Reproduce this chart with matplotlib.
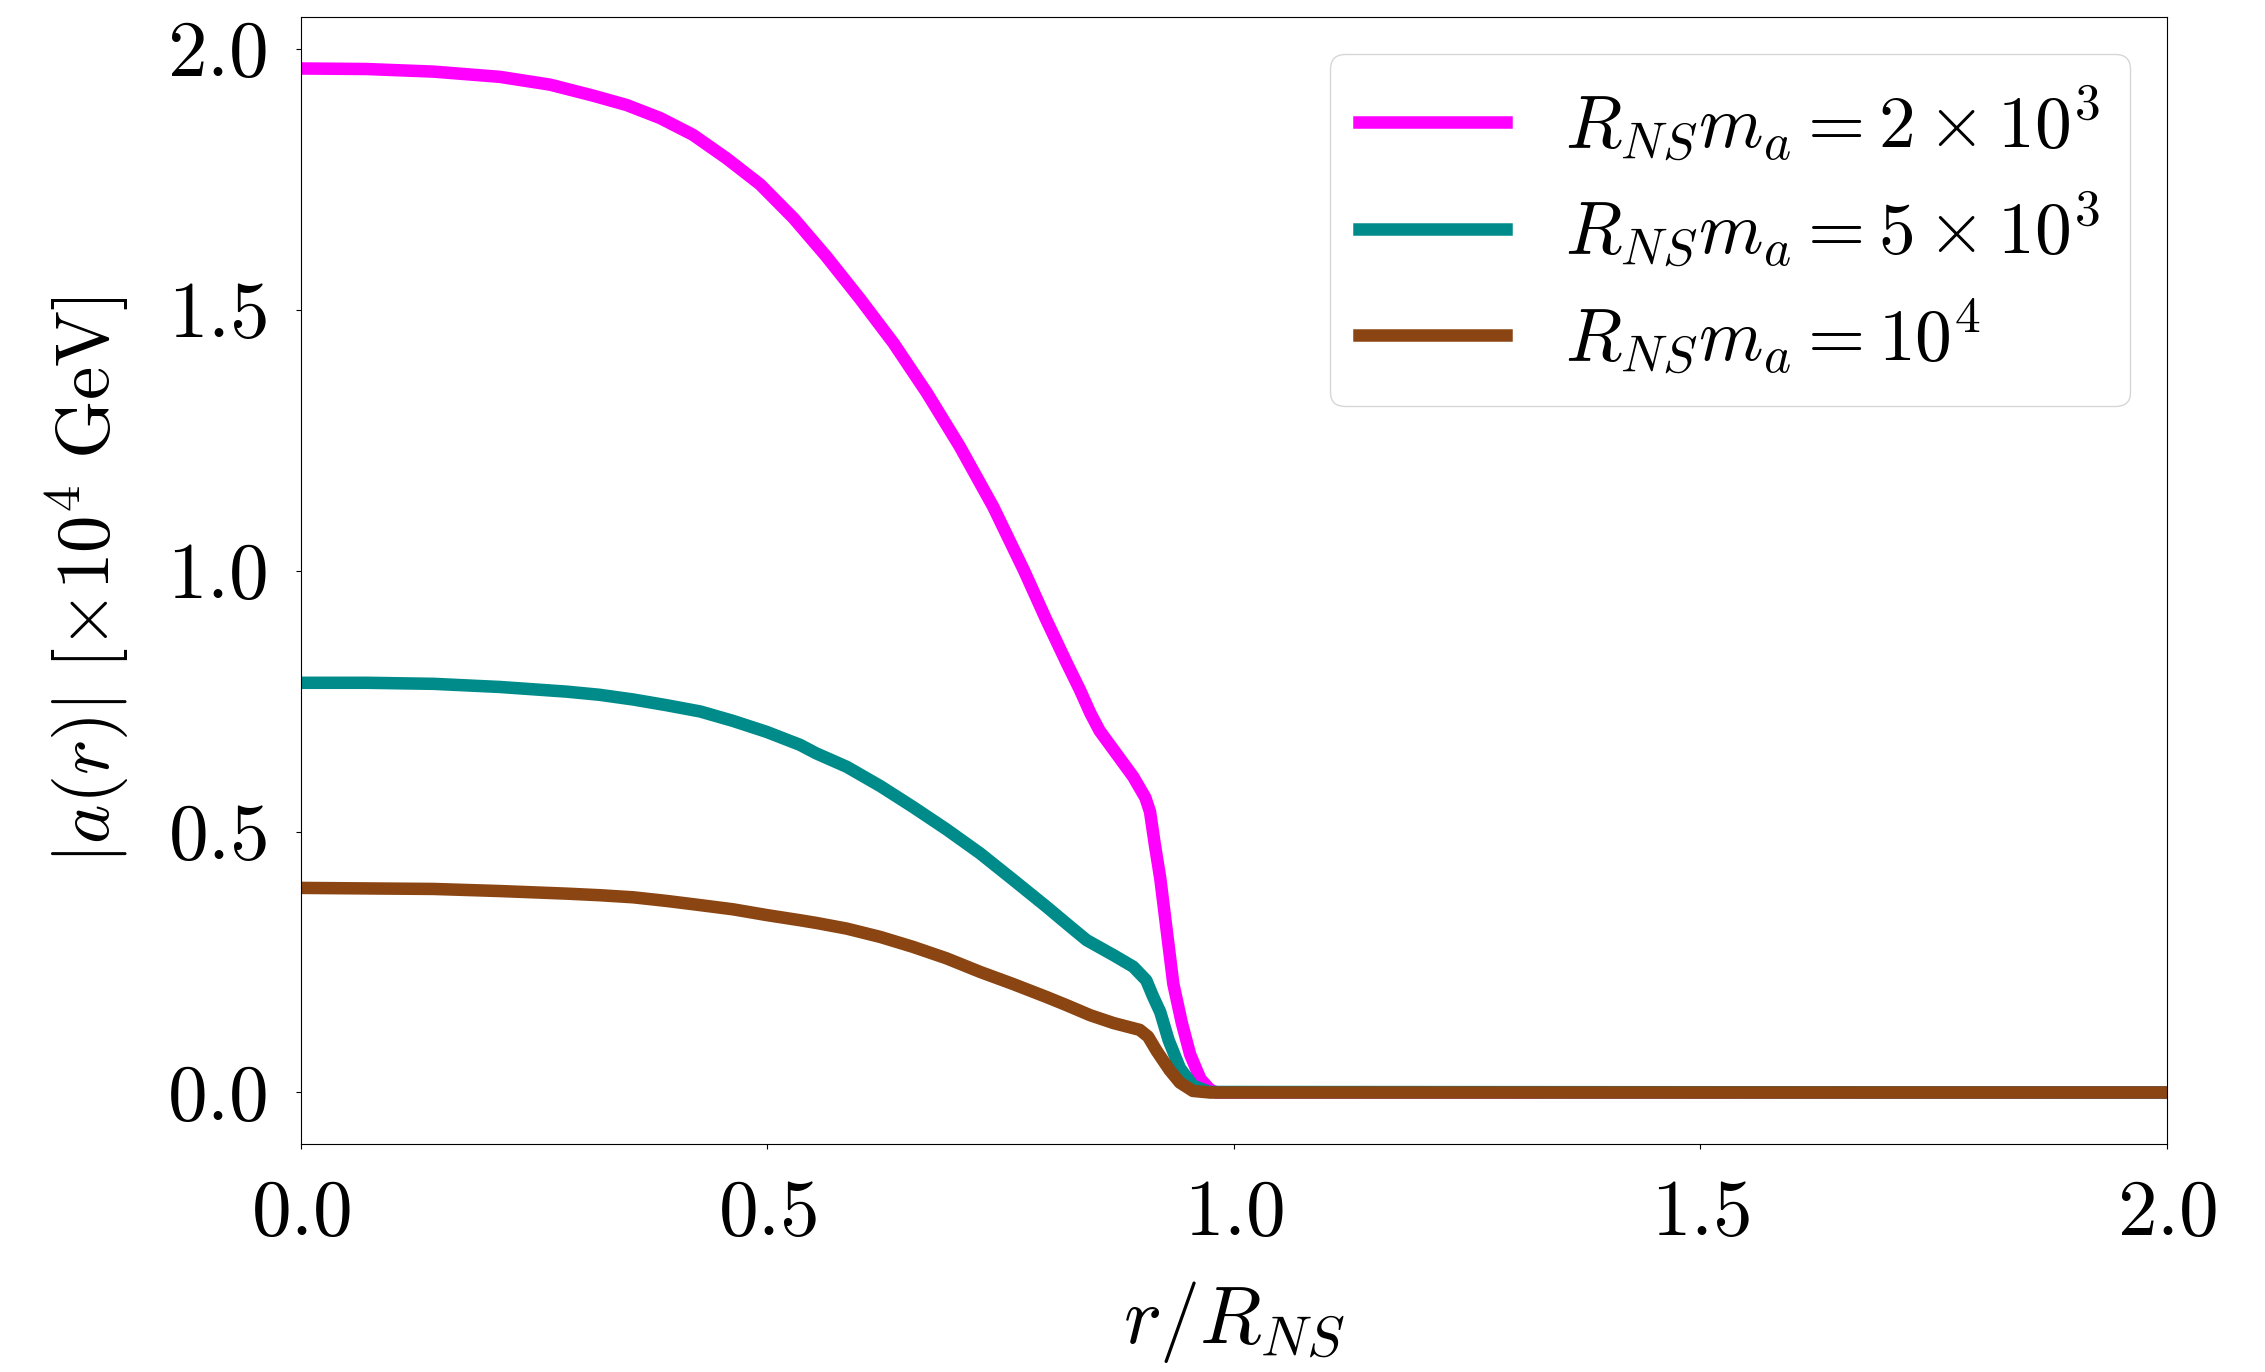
import numpy as np
import matplotlib
matplotlib.use('Agg')
import matplotlib.pyplot as plt

plt.rcParams['mathtext.fontset'] = 'cm'
plt.rcParams['font.family'] = 'serif'
plt.rcParams['font.serif'] = ['cmr10']
plt.rcParams['axes.formatter.use_mathtext'] = True
plt.rcParams['axes.unicode_minus'] = False

# R_NS m_a = 2e3
r_2e3 = [0.0, 0.070, 0.142, 0.213, 0.267, 0.313, 0.349, 0.385, 0.420, 0.456, 0.492,
         0.528, 0.563, 0.599, 0.635, 0.671, 0.706, 0.742, 0.775, 0.799, 0.821,
         0.835, 0.846, 0.856, 0.874, 0.892, 0.905, 0.910, 0.915, 0.921, 0.928,
         0.935, 0.944, 0.953, 0.964, 0.974, 0.981, 2.0]
a_2e3 = [1.962, 1.961, 1.956, 1.946, 1.931, 1.910, 1.892, 1.867, 1.835, 1.790, 1.740,
         1.675, 1.602, 1.521, 1.436, 1.340, 1.238, 1.122, 1.000, 0.905, 0.822,
         0.771, 0.727, 0.693, 0.649, 0.605, 0.565, 0.538, 0.477, 0.410, 0.309,
         0.208, 0.134, 0.073, 0.026, 0.006, 0.0, 0.0]

# R_NS m_a = 5e3
r_5e3 = [0.0, 0.071, 0.142, 0.213, 0.285, 0.320, 0.356, 0.392, 0.428, 0.463, 0.499,
         0.535, 0.552, 0.585, 0.621, 0.656, 0.692, 0.728, 0.763, 0.799, 0.821,
         0.842, 0.871, 0.892, 0.906, 0.913, 0.921, 0.930, 0.942, 0.956, 0.974, 2.0]
a_5e3 = [0.785, 0.785, 0.783, 0.777, 0.768, 0.762, 0.753, 0.742, 0.730, 0.712, 0.691,
         0.666, 0.650, 0.624, 0.587, 0.547, 0.504, 0.458, 0.408, 0.356, 0.323,
         0.292, 0.263, 0.241, 0.215, 0.185, 0.154, 0.100, 0.047, 0.013, 0.001, 0.0]

# R_NS m_a = 1e4
r_1e4 = [0.0, 0.142, 0.213, 0.285, 0.320, 0.356, 0.392, 0.428, 0.463, 0.499, 0.535,
         0.552, 0.585, 0.621, 0.656, 0.692, 0.728, 0.763, 0.799, 0.821, 0.846,
         0.871, 0.899, 0.908, 0.917, 0.931, 0.942, 0.956, 0.974, 2.0]
a_1e4 = [0.392, 0.390, 0.386, 0.381, 0.378, 0.374, 0.367, 0.359, 0.351, 0.340, 0.330,
         0.325, 0.314, 0.298, 0.279, 0.257, 0.231, 0.208, 0.183, 0.167, 0.148,
         0.133, 0.120, 0.107, 0.080, 0.043, 0.019, 0.003, 0.0, 0.0]

fig = plt.figure(figsize=(22.65, 13.72), dpi=100)
ax = fig.add_axes([0.1329, 0.1664, 0.8238, 0.821])

ax.plot(r_2e3, a_2e3, color='#ff00ff', lw=9, label=r'$R_{NS}m_a = 2\times10^3$')
ax.plot(r_5e3, a_5e3, color='#008b8b', lw=9, label=r'$R_{NS}m_a = 5\times10^3$')
ax.plot(r_1e4, a_1e4, color='#8b4513', lw=9, label=r'$R_{NS}m_a = 10^4$')

ax.set_xlim(0, 2)
ax.set_xticks([0.0, 0.5, 1.0, 1.5, 2.0])
ax.set_yticks([0.0, 0.5, 1.0, 1.5, 2.0])
ax.set_xticklabels([r'$0.0$', r'$0.5$', r'$1.0$', r'$1.5$', r'$2.0$'])
ax.set_yticklabels([r'$0.0$', r'$0.5$', r'$1.0$', r'$1.5$', r'$2.0$'])
ax.tick_params(axis='both', labelsize=57)
ax.tick_params(axis='x', pad=22)
ax.tick_params(axis='y', pad=21)
ax.set_xlabel(r'$r/R_{NS}$', fontsize=58, labelpad=20)
ax.set_ylabel(r'$|a(r)|\ [\times10^4\ \mathrm{GeV}]$', fontsize=54, labelpad=26)
ax.legend(loc='upper right', fontsize=53, labelspacing=0.36)

fig.savefig('out.png', dpi=100)
